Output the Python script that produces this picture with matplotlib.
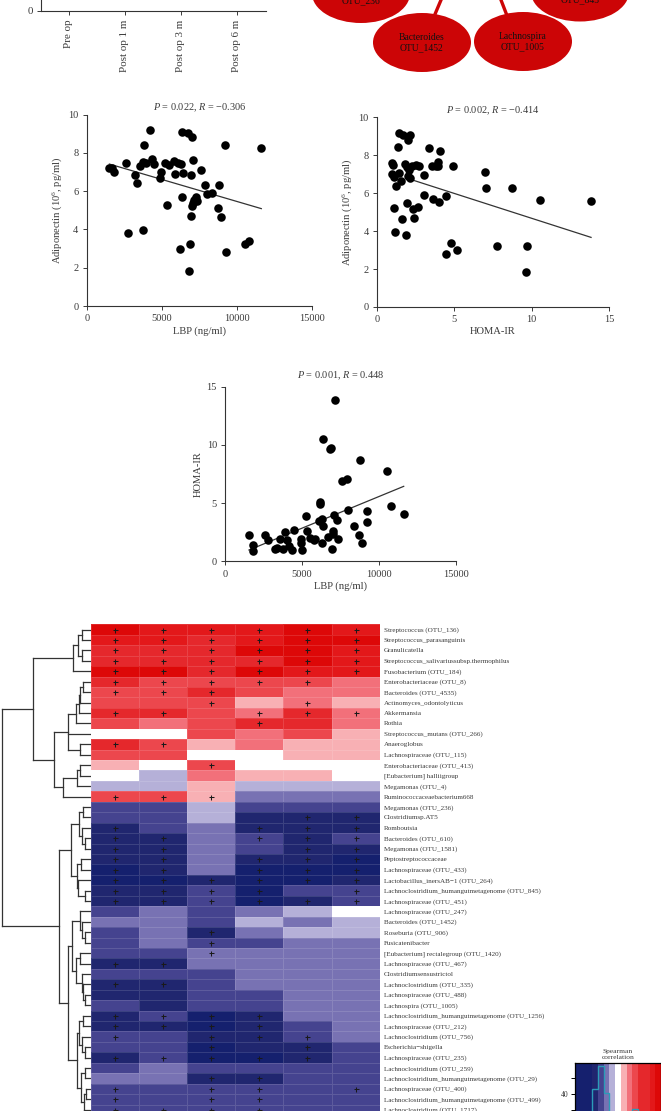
import numpy as np
import matplotlib
matplotlib.use("Agg")
import matplotlib.pyplot as plt
from matplotlib.colors import ListedColormap, BoundaryNorm
from matplotlib.patches import Ellipse

W, H = 661, 1111

plt.rcParams['font.family'] = ['Liberation Serif', 'DejaVu Serif']
plt.rcParams['mathtext.fontset'] = 'custom'
plt.rcParams['mathtext.rm'] = 'Liberation Serif'
plt.rcParams['mathtext.it'] = 'Liberation Serif:italic'

# top panel, only the bottom of it is in the crop
timepoints = ["Pre op", "Post op 1 m", "Post op 3 m", "Post op 6 m"]

# network nodes
node_names = ["OTU_236", "OTU_845", "Bacteroides\nOTU_1452", "Lachnospira\nOTU_1005"]

# LBP vs adiponectin
a_lbp = [1507, 1662, 1839, 2592, 3235, 3346, 3523, 3722, 3833, 3966, 4188, 4321, 4454,
         4897, 4963, 5229, 5340, 5495, 5805, 5849, 6093, 6270, 6315, 6337, 6403, 6714,
         6957, 7002, 7046, 6957, 6979, 7112, 7245, 7334, 7622, 7888, 7976, 8331, 8708,
         8796, 8907, 9217, 9262, 10525, 10768, 11610, 2748, 3722, 6204, 6869, 6780,
         7201, 7068]
a_adipo = [7.21, 7.20, 7.02, 7.49, 6.85, 6.43, 7.32, 7.54, 8.43, 7.46, 9.22, 7.68, 7.44,
           6.67, 6.99, 7.46, 5.28, 7.39, 7.58, 6.92, 7.49, 7.44, 9.08, 5.68, 6.97, 9.06,
           6.83, 8.83, 7.63, 4.70, 5.24, 5.54, 5.71, 5.47, 7.13, 6.31, 5.85, 5.91, 5.14,
           6.31, 4.63, 8.41, 2.84, 3.22, 3.40, 8.28, 3.80, 3.95, 3.00, 3.24, 1.85,
           5.54, 5.37]
a_fit_x = [1507, 11610]
a_fit_y = [7.42, 5.09]

# HOMA-IR vs adiponectin
b_homa = [0.99, 1.06, 0.99, 1.12, 1.44, 1.23, 1.57, 1.08, 1.14, 1.59, 1.85, 1.96, 1.40,
          1.66, 2.16, 2.03, 1.38, 1.83, 1.94, 2.07, 1.98, 2.16, 2.28, 2.52, 2.69, 3.06,
          2.33, 2.41, 2.67, 3.02, 3.36, 3.53, 3.81, 3.97, 3.94, 4.07, 3.60, 4.03, 4.44,
          4.94, 4.44, 4.78, 5.17, 6.96, 7.07, 7.78, 8.71, 9.63, 9.70, 10.52, 13.84]
b_adipo = [7.59, 7.49, 6.99, 6.84, 7.05, 6.40, 6.66, 5.24, 3.94, 4.62, 3.78, 5.47, 9.19,
           9.07, 9.05, 8.82, 8.42, 7.56, 7.40, 7.22, 6.91, 6.80, 7.43, 7.49, 7.45, 6.96,
           5.15, 4.67, 5.25, 5.91, 8.40, 7.45, 7.45, 7.43, 7.63, 8.24, 5.68, 5.54, 5.83,
           7.43, 2.81, 3.37, 2.99, 7.12, 6.27, 3.22, 6.29, 1.83, 3.22, 5.66, 5.59]
b_fit_x = [2.16, 13.84]
b_fit_y = [6.73, 3.67]

# LBP vs HOMA-IR
c_lbp = [1541, 1824, 1824, 2583, 2757, 3235, 3365, 3539, 3734, 3886, 3995, 4147, 4320,
         4472, 4906, 4906, 4993, 5232, 5341, 5514, 5796, 5840, 6122, 6187, 6187, 6274,
         6318, 6339, 6383, 6687, 6817, 6904, 6969, 6991, 7056, 7012, 7251, 7360, 7143,
         7620, 7902, 7967, 8358, 8706, 8793, 8901, 9205, 9249, 10508, 10768, 11615]
c_homa = [2.23, 1.40, 0.92, 2.23, 1.80, 1.03, 1.17, 1.92, 1.03, 2.49, 1.80, 1.35, 0.94,
          2.66, 1.95, 1.60, 1.00, 3.89, 2.61, 1.98, 1.80, 1.95, 3.44, 5.12, 4.90, 3.61,
          1.60, 10.48, 3.01, 2.12, 9.62, 9.71, 1.03, 2.32, 4.01, 2.61, 3.55, 1.92, 13.83,
          6.93, 7.04, 4.41, 3.01, 2.29, 8.67, 1.55, 3.35, 4.35, 7.73, 4.75, 4.04]
c_fit_x = [1541, 11615]
c_fit_y = [0.97, 6.44]

# heatmap
taxa = ["Streptococcus (OTU_136)", "Streptococcus_parasanguinis", "Granulicatella",
        "Streptococcus_salivariussubsp.thermophilus", "Fusobacterium (OTU_184)",
        "Enterobacteriaceae (OTU_8)", "Bacteroides (OTU_4535)", "Actinomyces_odontolyticus",
        "Akkermansia", "Rothia", "Streptococcus_mutans (OTU_266)", "Anaeroglobus",
        "Lachnospiraceae (OTU_115)", "Enterobacteriaceae (OTU_413)", "[Eubacterium] halliigroup",
        "Megamonas (OTU_4)", "Ruminococcaceaebacterium668", "Megamonas (OTU_236)",
        "Clostridiumsp.AT5", "Romboutsia", "Bacteroides (OTU_610)", "Megamonas (OTU_1581)",
        "Peptostreptococcaceae", "Lachnospiraceae (OTU_433)", "Lactobacillus_inersAB\u22121 (OTU_264)",
        "Lachnoclostridium_humangutmetagenome (OTU_845)", "Lachnospiraceae (OTU_451)",
        "Lachnospiraceae (OTU_247)", "Bacteroides (OTU_1452)", "Roseburia (OTU_906)",
        "Fusicatenibacter", "[Eubacterium] rectalegroup (OTU_1420)", "Lachnospiraceae (OTU_467)",
        "Clostridiumsensustrictol", "Lachnoclostridium (OTU_335)", "Lachnospiraceae (OTU_488)",
        "Lachnospira (OTU_1005)", "Lachnoclostridium_humangutmetagenome (OTU_1256)",
        "Lachnospiraceae (OTU_212)", "Lachnoclostridium (OTU_756)", "Escherichia\u2212shigella",
        "Lachnospiraceae (OTU_235)", "Lachnoclostridium (OTU_259)",
        "Lachnoclostridium_humangutmetagenome (OTU_29)", "Lachnospiraceae (OTU_400)",
        "Lachnoclostridium_humangutmetagenome (OTU_499)", "Lachnoclostridium (OTU_1717)"]

levels = [
    [6, 5, 5, 5, 6, 5], [5, 5, 4, 5, 6, 6], [4, 4, 4, 6, 6, 5], [4, 4, 4, 4, 6, 5],
    [6, 6, 4, 6, 5, 5], [4, 3, 3, 3, 3, 2], [3, 3, 4, 3, 2, 2], [3, 3, 3, 1, 2, 1],
    [4, 4, 3, 2, 4, 2], [3, 2, 3, 4, 4, 2], [0, 0, 3, 2, 3, 1], [4, 3, 1, 2, 1, 1],
    [3, 3, 0, 0, 1, 1], [1, 0, 3, 0, 0, 0], [0, -1, 2, 1, 1, 0], [-1, -1, 1, -1, -1, -1],
    [3, 3, 1, -2, -2, -2], [-3, -3, -1, -3, -3, -3], [-3, -3, -1, -4, -4, -4],
    [-4, -3, -2, -4, -4, -4], [-4, -4, -2, -3, -4, -3], [-4, -4, -2, -3, -4, -4],
    [-4, -4, -2, -4, -4, -5], [-5, -4, -2, -5, -5, -5], [-5, -5, -4, -5, -5, -4],
    [-4, -4, -3, -5, -3, -3], [-4, -4, -3, -5, -4, -3], [-3, -2, -3, -2, -1, 0],
    [-2, -2, -3, -1, -2, -1], [-3, -2, -4, -2, -1, -1], [-3, -2, -3, -3, -2, -2],
    [-3, -3, -2, -2, -2, -2], [-4, -4, -2, -2, -2, -2], [-3, -3, -3, -2, -2, -2],
    [-4, -4, -3, -2, -2, -2], [-4, -4, -3, -3, -2, -2], [-3, -4, -3, -3, -2, -2],
    [-4, -3, -5, -4, -2, -2], [-4, -4, -5, -4, -3, -2], [-3, -3, -4, -4, -3, -2],
    [-3, -3, -5, -4, -4, -3], [-4, -3, -5, -5, -4, -3], [-3, -2, -3, -3, -3, -3],
    [-2, -2, -4, -4, -3, -3], [-3, -3, -3, -3, -3, -3], [-3, -3, -3, -3, -3, -3],
    [-3, -3, -3, -3, -3, -3],
]

# columns with a + in each row (1 based)
plus = [
    [1, 2, 3, 4, 5, 6], [1, 2, 3, 4, 5, 6], [1, 2, 3, 4, 5, 6], [1, 2, 3, 4, 5, 6],
    [1, 2, 3, 4, 5, 6], [1, 2, 3, 4, 5], [1, 2, 3], [3, 5], [1, 2, 4, 5, 6], [4], [],
    [1, 2], [], [3], [], [], [1, 2, 3], [], [5, 6], [1, 4, 5, 6], [1, 2, 4, 5, 6],
    [1, 2, 5, 6], [1, 2, 4, 5, 6], [1, 2, 4, 5, 6], [1, 2, 3, 4, 5, 6], [1, 2, 3, 4, 6],
    [1, 2, 3, 4, 5, 6], [], [], [3], [3], [3], [1, 2], [], [1, 2], [], [],
    [1, 2, 3, 4], [1, 2, 3, 4], [1, 3, 4, 5], [3, 5], [1, 2, 3, 4, 5], [], [3, 4],
    [1, 3, 4, 6], [1, 3, 4], [1, 2, 3, 4],
]

# dendrogram as (height, children), a plain int is a row number
top_group = (73, [(78, [(82, [1, 2]), (82, [3, 4])]), 5])
red_group = (68, [(76, [(79, [(80, [(83, [6, 7]), 8]), 9]), 10]), 11, (80, [12, 13])])
mid_group = (63, [(77, [(80, [14, 15]), 16]), 17])
blue_a = (71, [(79, [(83, [18, 19]), (82, [20, (85, [21, 22])])]),
               (77, [(81, [23, 24]), (78, [25, (85, [26, 27])])])])
blue_b = (72, [(80, [28, (82, [29, (85, [30, 31])])]),
               (76, [(80, [32, 33]), (82, [34, (83, [35, (85, [36, 37])])])])])
blue_c = (77, [(79, [(83, [38, 39]), (82, [40, (85, [41, 42])])]),
               (81, [(85, [43, 44]), (84, [(86, [45, 46]), 47])])])
tree = (2, [(33, [top_group, (54, [red_group, mid_group])]),
            (59, [blue_a, (68, [blue_b, blue_c])])])

# colour key
key_bands = [-5, -5, -5, -4, -3, -2, -1, 0, 1, 2, 3, 4, 4, 5, 6]
key_counts = [2, 3, 6, 47, 75, 42, 12, 3, 5, 8, 21, 14, 8, 4, 2]
key_ticks = [20, 40, 60]
key_ticklabels = ["", "40", ""]

level_colors = ["#15206e", "#20266f", "#45438f", "#7872b3", "#b5b0d8", "#ffffff",
                "#f8b0b4", "#f2707a", "#ec474d", "#e5282c", "#e3181a", "#dd0808"]
text_col = "#3a3a3a"
line_col = "#333333"

fig = plt.figure(figsize=(W / 100, H / 100), dpi=100)


def box(x0, y0, x1, y1):
    # pixel box (y from the top) to an axes
    return fig.add_axes([x0 / W, 1 - y1 / H, (x1 - x0) / W, (y1 - y0) / H])


def scatter_panel(rect, x, y, fit_x, fit_y, xlim, ylim, xticks, yticks, xlabel, ylabel, title, pad):
    ax = box(*rect)
    ax.scatter(x, y, s=38, color="black", linewidths=0, zorder=3, clip_on=False)
    ax.plot(fit_x, fit_y, color="#333333", lw=0.9, zorder=2)
    ax.set_xlim(*xlim)
    ax.set_ylim(*ylim)
    ax.set_xticks(xticks)
    ax.set_yticks(yticks)
    ax.tick_params(labelsize=7.5, colors=text_col, length=3, width=0.7, pad=3)
    ax.set_xlabel(xlabel, fontsize=7.6, color=text_col, labelpad=2)
    ax.set_ylabel(ylabel, fontsize=7.6, color=text_col, labelpad=3)
    ax.set_title(title, fontsize=7.4, color=text_col, pad=pad)
    for s in ["top", "right"]:
        ax.spines[s].set_visible(False)
    for s in ["left", "bottom"]:
        ax.spines[s].set_color(line_col)
        ax.spines[s].set_linewidth(0.8)
    return ax


# top left stub
ax = box(41, 0, 266, 11)
ax.set_xlim(-0.5, 3.52)
ax.set_ylim(0, 1)
ax.set_xticks(range(len(timepoints)))
ax.set_xticklabels(timepoints, rotation=90, fontsize=7.9, color=text_col)
ax.set_yticks([0])
ax.tick_params(colors=text_col, length=3, width=0.7, pad=3, labelsize=7.9)
for s in ["top", "right"]:
    ax.spines[s].set_visible(False)
for s in ["left", "bottom"]:
    ax.spines[s].set_color(line_col)

# network, axes in picture pixels
ax = box(300, 0, 640, 80)
ax.set_xlim(300, 640)
ax.set_ylim(80, 0)
ax.axis("off")
red = "#cc0506"
ax.plot([441, 435.5], [0, 13], color=red, lw=2.4)
ax.plot([501, 506], [0, 13], color=red, lw=2.4)
centres = [(361, -6.5), (580, -8), (422, 42.5), (523, 41.5)]
for (cx, cy), name in zip(centres, node_names):
    ax.add_patch(Ellipse((cx, cy), 98, 59, facecolor=red, edgecolor="none", zorder=3))
    ax.text(cx, cy + 7.5 if "\n" not in name else cy, name, ha="center", va="center",
            fontsize=6.9, color="#111111", zorder=4, linespacing=1.25)

scatter_panel((86.7, 114.7, 312.3, 306), a_lbp, a_adipo, a_fit_x, a_fit_y, (0, 15000), (0, 10),
              [0, 5000, 10000, 15000], [0, 2, 4, 6, 8, 10], "LBP (ng/ml)",
              "Adiponectin (10$^6$, pg/ml)", "$P$ = 0.022, $R$ = \u22120.306", 3.5)
scatter_panel((377, 117.3, 609, 307), b_homa, b_adipo, b_fit_x, b_fit_y, (0, 15), (0, 10),
              [0, 5, 10, 15], [0, 2, 4, 6, 8, 10], "HOMA-IR",
              "Adiponectin (10$^6$, pg/ml)", "$P$ = 0.002, $R$ = \u22120.414", 3)
scatter_panel((225.3, 386.7, 455.7, 561.3), c_lbp, c_homa, c_fit_x, c_fit_y, (0, 15000), (0, 15),
              [0, 5000, 10000, 15000], [0, 5, 10, 15], "LBP (ng/ml)",
              "HOMA-IR", "$P$ = 0.001, $R$ = 0.448", 6)

# heatmap
heat_top, pitch = 624.3, 10.44
heat_bottom = heat_top + pitch * len(taxa)
cmap = ListedColormap(level_colors)
norm = BoundaryNorm(np.arange(-5.5, 7.5), cmap.N)

ax = box(90.7, heat_top, 379.7, heat_bottom)
ax.pcolormesh(np.arange(7), np.arange(len(taxa) + 1), np.array(levels), cmap=cmap, norm=norm,
              edgecolors=(1, 1, 1, 0.13), linewidth=0.4)
ax.set_xlim(0, 6)
ax.set_ylim(len(taxa), 0)
for i, cols in enumerate(plus):
    for c in cols:
        ax.plot(c - 0.5, i + 0.5, marker="+", ms=3.6, mew=0.75, color="#1a1a1a", ls="none")
ax.set_xticks([])
ax.yaxis.tick_right()
ax.set_yticks(np.arange(len(taxa)) + 0.5)
ax.set_yticklabels(taxa, fontsize=5.15, color=text_col)
ax.tick_params(axis="y", length=0, pad=3)
for s in ax.spines.values():
    s.set_visible(False)

# dendrogram shares the row scale of the heatmap
dax = box(0, heat_top, 90.7, heat_bottom)
dax.set_xlim(0, 90.7)
dax.set_ylim(len(taxa), 0)
dax.axis("off")


def draw_node(node):
    if isinstance(node, int):
        return 89.5, node - 0.5
    h, kids = node
    pts = [draw_node(k) for k in kids]
    ys = [p[1] for p in pts]
    dax.plot([h, h], [min(ys), max(ys)], color=line_col, lw=0.9, solid_capstyle="projecting")
    for px, py in pts:
        dax.plot([h, px], [py, py], color=line_col, lw=0.9, solid_capstyle="projecting")
    return h, (min(ys) + max(ys)) / 2


draw_node(tree)

# colour key, runs off the bottom and right of the crop
kax = box(575, 1063, 661, 1126)
kax.pcolormesh(np.arange(len(key_bands) + 1), [0, 79], np.array([key_bands]), cmap=cmap, norm=norm)
kax.stairs(key_counts, np.arange(len(key_bands) + 1), color="#2b9cb8", lw=1.0)
kax.set_xlim(0, len(key_bands))
kax.set_ylim(0, 79)
kax.set_xticks([])
kax.set_yticks(key_ticks)
kax.set_yticklabels(key_ticklabels, fontsize=5.6, color=text_col)
kax.tick_params(axis="y", length=3, width=0.7, pad=2)
for s in kax.spines.values():
    s.set_linewidth(0.9)
kax.set_title("Spearman\ncorrelation", fontsize=5.4, color=text_col, pad=3, x=0.5, linespacing=1.3)

fig.savefig("out.png", dpi=100)
